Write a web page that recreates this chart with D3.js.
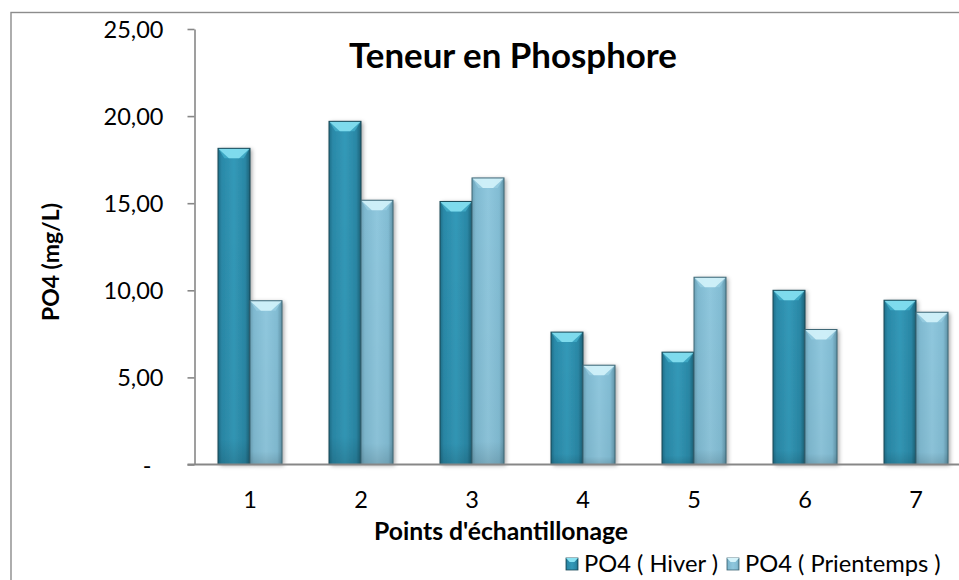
<!DOCTYPE html>
<html>
<head>
<meta charset="utf-8">
<script src="https://cdn.jsdelivr.net/npm/d3@7"></script>
<style>
  html, body { margin: 0; padding: 0; background: #ffffff; }
  svg { display: block; font-family: Lato, "Open Sans", sans-serif; }
</style>
</head>
<body>
<svg id="chart" width="959" height="580"></svg>
<script>
// ---------- data ----------
const categories = ["1", "2", "3", "4", "5", "6", "7"];
const hiver      = [18.15, 19.70, 15.10, 7.60, 6.45, 10.00, 9.43];
const printemps  = [9.40, 15.17, 16.45, 5.70, 10.75, 7.75, 8.74];
const seriesNames = ["PO4 ( Hiver )", "PO4 ( Prientemps )"];
const yTicks      = [0, 5, 10, 15, 20, 25];
const yTickLabels = ["-", "5,00", "10,00", "15,00", "20,00", "25,00"];
const chartTitle  = "Teneur en Phosphore";
const xTitle      = "Points d'échantillonage";
const yTitle      = "PO4 (mg/L)";

// ---------- setup ----------
const svg = d3.select("#chart");
const plot = { left: 194.5, right: 971.5, top: 29, bottom: 464.5 };

function fit(sel, target) {
  const base = parseFloat(sel.attr("font-size"));
  const len = sel.node().getComputedTextLength();
  sel.attr("font-size", (base * target / len).toFixed(2));
  return sel;
}

const defs = svg.append("defs");
function barGradient(id, stops) {
  const g = defs.append("linearGradient").attr("id", id)
    .attr("x1", "0%").attr("x2", "100%").attr("y1", "0%").attr("y2", "0%");
  stops.forEach(s => g.append("stop").attr("offset", s[0]).attr("stop-color", s[1]));
}
barGradient("gH", [["0%", "#1f6f89"], ["12%", "#2a89a8"], ["50%", "#3399b8"], ["85%", "#2a87a5"], ["100%", "#1c6177"]]);
barGradient("gP", [["0%", "#6a9fb4"], ["12%", "#7fb9d0"], ["50%", "#8fc7dd"], ["85%", "#82bcd3"], ["100%", "#5f92a6"]]);
const colors = [
  { body: "url(#gH)", top: "#4fbfd9", vee: "#8ae3f3", stroke: "#184856" },
  { body: "url(#gP)", top: "#a2d6e8", vee: "#d6f4fb", stroke: "#3f6877" }
];
const vshade = defs.append("linearGradient").attr("id", "vshade")
  .attr("x1", "0").attr("x2", "0").attr("y1", "0").attr("y2", "1");
vshade.append("stop").attr("offset", "0%").attr("stop-color", "#000").attr("stop-opacity", 0);
vshade.append("stop").attr("offset", "92%").attr("stop-color", "#000").attr("stop-opacity", 0.03);
vshade.append("stop").attr("offset", "100%").attr("stop-color", "#000").attr("stop-opacity", 0.15);

const shadow = defs.append("filter").attr("id", "shadow")
  .attr("x", "-20%").attr("y", "-10%").attr("width", "160%").attr("height", "130%");
shadow.append("feDropShadow").attr("dx", 2).attr("dy", 1).attr("stdDeviation", 2.2)
  .attr("flood-color", "#000").attr("flood-opacity", 0.35);

// outer border (chart area extends beyond the captured frame)
svg.append("rect").attr("x", 11).attr("y", 12.5).attr("width", 1000).attr("height", 620)
  .attr("fill", "#fff").attr("stroke", "#8c8c8c").attr("stroke-width", 1.4);

// ---------- scales ----------
const pad = 47 / 111;
const x = d3.scaleBand().domain(categories).range([plot.left, plot.right])
  .paddingInner(pad).paddingOuter(pad / 2);
const x1 = d3.scaleBand().domain([0, 1]).range([0, x.bandwidth()]);
const y = d3.scaleLinear().domain([0, 25]).range([plot.bottom, plot.top]);

// ---------- bars ----------
const series = [hiver, printemps];
const barsG = svg.append("g");
series.forEach((vals, si) => {
  const c = colors[si];
  const g = barsG.append("g").attr("class", "series-" + si);
  vals.forEach((v, i) => {
    const bx = x(categories[i]) + x1(si);
    const bw = x1.bandwidth();
    const by = y(v);
    const bh = y(0) - y(v);
    const bar = g.append("g");
    bar.append("rect").attr("x", bx).attr("y", by).attr("width", bw).attr("height", bh)
      .attr("fill", c.body).attr("filter", "url(#shadow)");
    bar.append("rect").attr("x", bx).attr("y", by).attr("width", bw).attr("height", bh)
      .attr("fill", "url(#vshade)");
    const bev = Math.min(10, bh);
    // bevel side faces slightly lighter than body
    bar.append("path")
      .attr("d", `M${bx},${by} L${bx + bw},${by} L${bx + bw * 0.8},${by + bev} L${bx + bw * 0.2},${by + bev} Z`)
      .attr("fill", c.top).attr("opacity", 0.55);
    // bright top strip with V notch
    bar.append("path")
      .attr("d", `M${bx},${by} L${bx + bw},${by} L${bx + bw * 0.9},${by + 3} L${bx + bw * 0.66},${by + bev} L${bx + bw * 0.34},${by + bev} L${bx + bw * 0.1},${by + 3} Z`)
      .attr("fill", c.vee).attr("opacity", 0.85);
    bar.append("rect").attr("x", bx).attr("y", by).attr("width", bw).attr("height", bh)
      .attr("fill", "none").attr("stroke", c.stroke).attr("stroke-width", 1);
  });
});

// ---------- axes ----------
const axisColor = "#878787";
const yAxis = svg.append("g").attr("transform", `translate(${plot.left},0)`)
  .call(d3.axisLeft(y).tickValues(yTicks).tickFormat((d, i) => yTickLabels[i])
    .tickSize(7).tickSizeOuter(0).tickPadding(24));
yAxis.select(".domain").attr("stroke", axisColor).attr("stroke-width", 1.6);
yAxis.selectAll(".tick line").attr("stroke", axisColor).attr("stroke-width", 1.6);
yAxis.selectAll(".tick text")
  .attr("font-family", "Lato, sans-serif").attr("fill", "#000")
  .attr("dy", null).attr("y", 8.5)
  .attr("x", (d) => d === 0 ? -43 : -31);
{
  const t = yAxis.selectAll(".tick text").filter(d => d === 25).attr("font-size", 24);
  fit(t, 60);
  yAxis.selectAll(".tick text").attr("font-size", t.attr("font-size"));
  yAxis.attr("font-size", null);
}
const tickFS = yAxis.selectAll(".tick text").filter(d => d === 25).attr("font-size");

const xAxis = svg.append("g").attr("transform", `translate(0,${plot.bottom})`)
  .call(d3.axisBottom(x).tickSize(0).tickSizeOuter(0).tickPadding(0));
xAxis.select(".domain").attr("d", `M${plot.left - 7},0H${plot.right}`)
  .attr("stroke", axisColor).attr("stroke-width", 2);
xAxis.selectAll(".tick text")
  .attr("font-family", "Lato, sans-serif").attr("font-size", tickFS).attr("fill", "#000")
  .attr("dy", null).attr("y", 508 - plot.bottom);
xAxis.attr("font-size", null);

// ---------- titles ----------
const title = svg.append("text").attr("x", 513).attr("y", 67.5)
  .attr("text-anchor", "middle").attr("font-weight", "bold").attr("font-size", 32)
  .attr("font-family", "Lato, sans-serif").attr("fill", "#000").text(chartTitle);
fit(title, 328);

const xt = svg.append("text").attr("x", 501).attr("y", 540)
  .attr("text-anchor", "middle").attr("font-weight", "bold").attr("font-size", 22)
  .attr("font-family", "Lato, sans-serif").attr("fill", "#000").text(xTitle);
fit(xt, 254);

const yt = svg.append("text").attr("transform", "translate(59,262) rotate(-90)")
  .attr("text-anchor", "middle").attr("font-weight", "bold").attr("font-size", 22)
  .attr("font-family", "Lato, sans-serif").attr("fill", "#000").text(yTitle);
fit(yt, 118);

// ---------- legend ----------
const leg = svg.append("g");
const legY = 572;
const s = 12;
const items = [];
let lx = 0;
seriesNames.forEach((name, si) => {
  const c = colors[si];
  const it = leg.append("g");
  it.append("rect").attr("x", lx).attr("y", legY - 14).attr("width", s).attr("height", s)
    .attr("fill", c.body).attr("stroke", c.stroke).attr("stroke-width", 0.8);
  it.append("path")
    .attr("d", `M${lx},${legY - 14} L${lx + s},${legY - 14} L${lx + s * 0.7},${legY - 10} L${lx + s * 0.3},${legY - 10} Z`)
    .attr("fill", c.vee);
  const t = it.append("text").attr("x", lx + s + 6).attr("y", legY)
    .attr("font-family", "Lato, sans-serif").attr("font-size", 24).attr("fill", "#000").text(name);
  if (si === 0) fit(t, 134);
  else t.attr("font-size", leg.select("text").attr("font-size"));
  lx = lx + s + 6 + t.node().getComputedTextLength() + 9;
});
// start near x=566 but keep the whole legend inside the frame
const legW = lx - 9;
const legX = Math.min(566, 955 - legW);
leg.attr("transform", `translate(${legX},0)`);
</script>
</body>
</html>
